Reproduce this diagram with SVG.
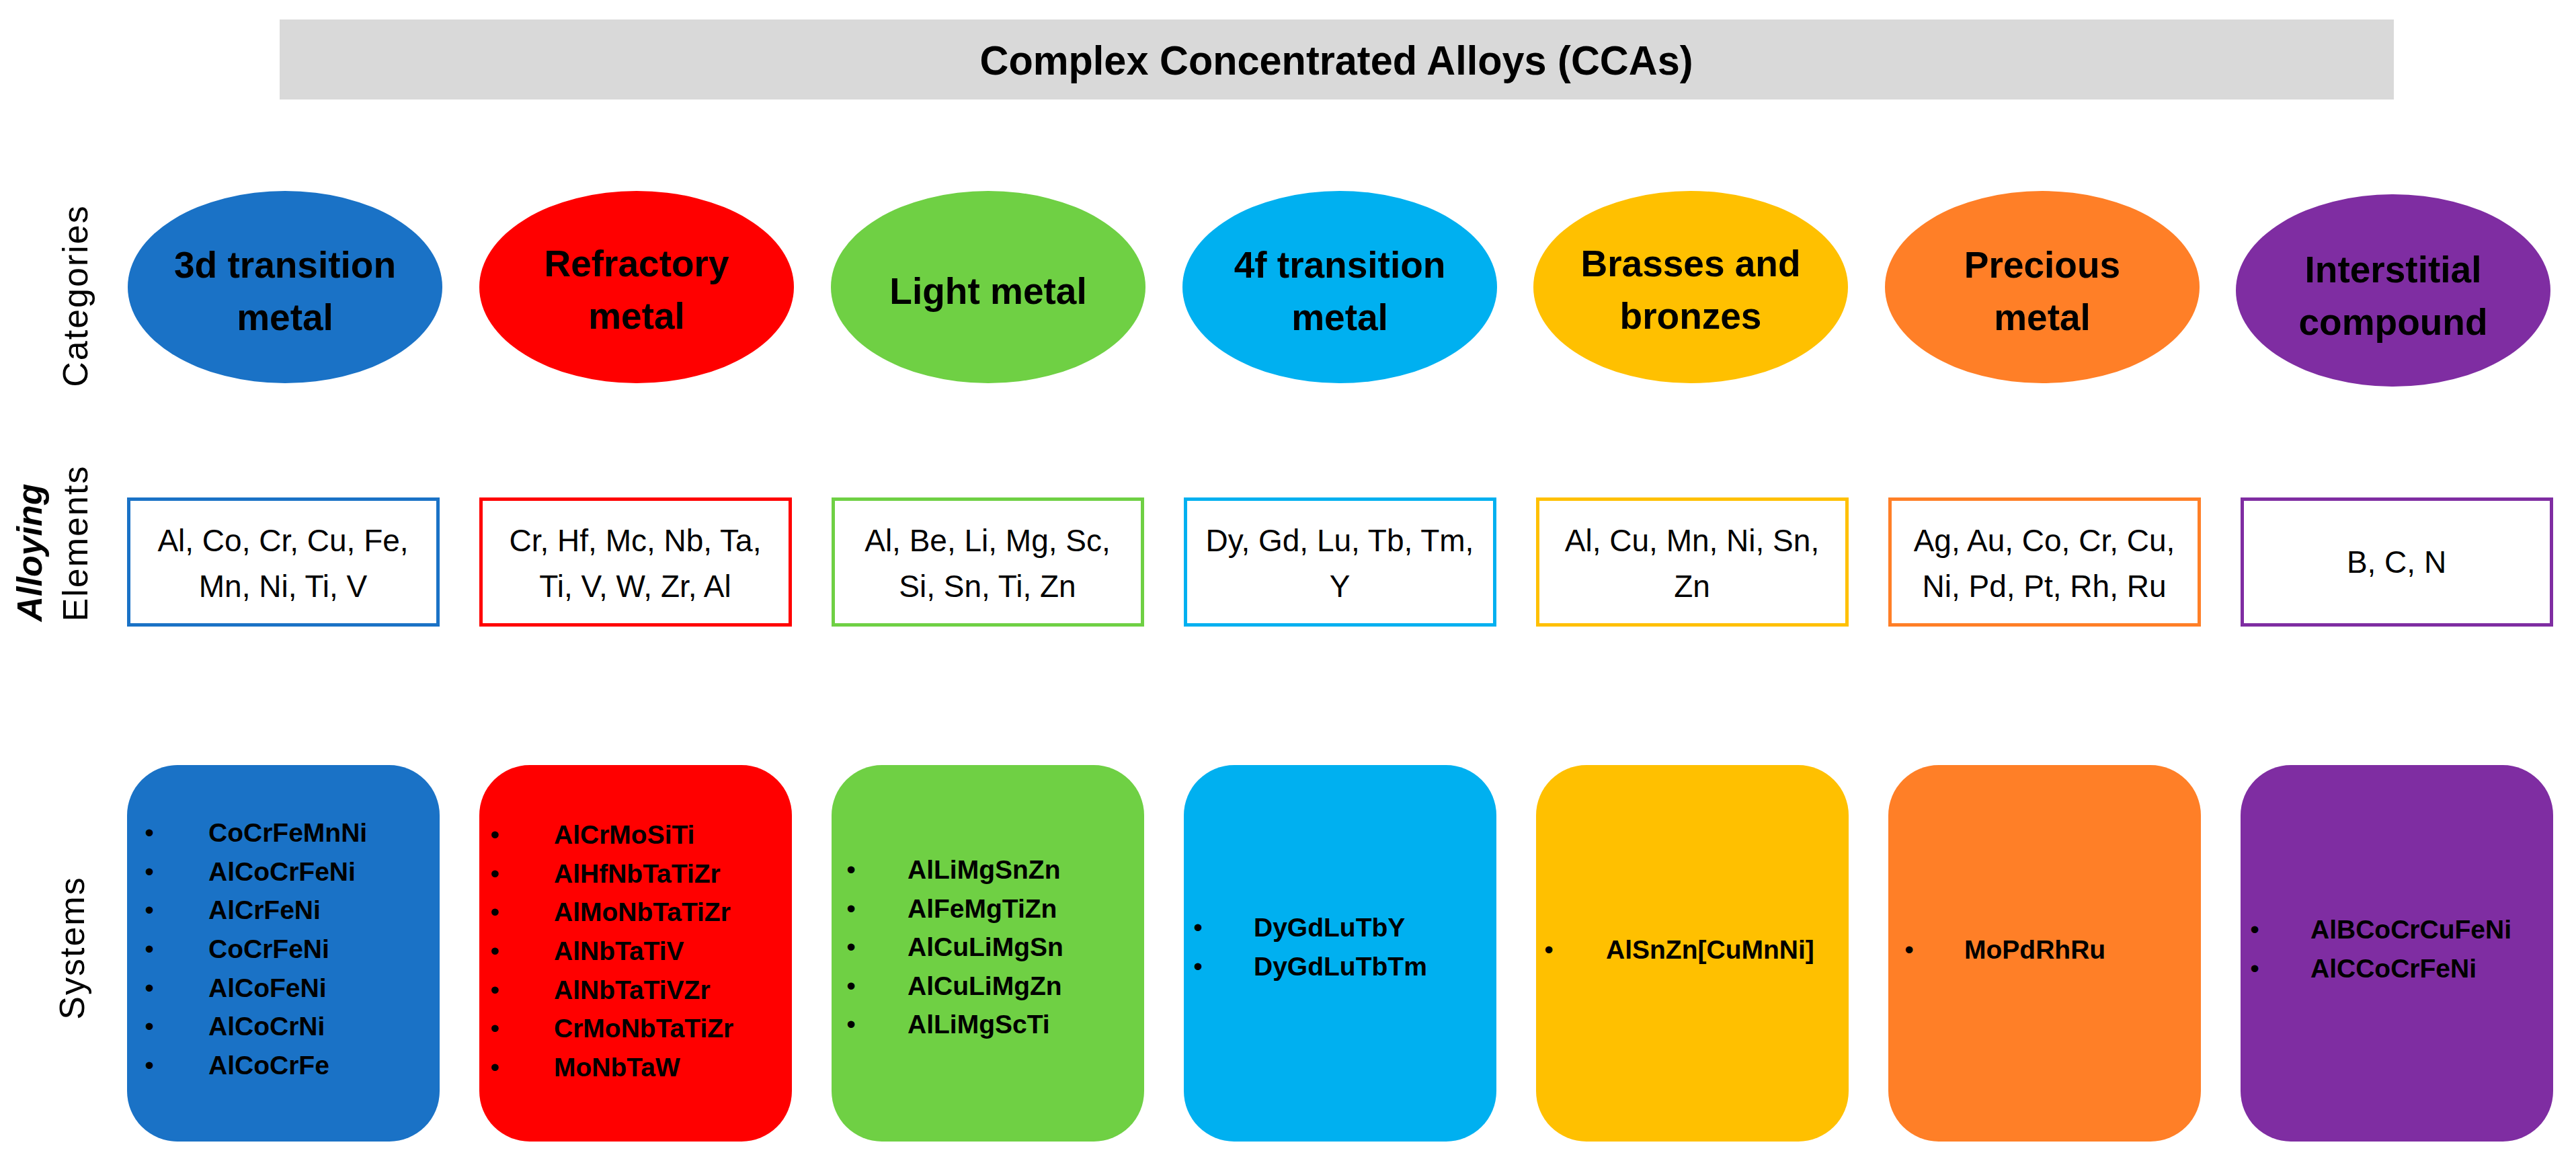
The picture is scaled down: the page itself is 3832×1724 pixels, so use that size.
<svg xmlns="http://www.w3.org/2000/svg" width="3832" height="1724" viewBox="0 0 3832 1724">
<style>
.cat{font-family:"Liberation Sans",Arial,sans-serif;font-weight:bold;font-size:55px;text-anchor:middle;fill:#000}
.el{font-family:"Liberation Sans",Arial,sans-serif;font-size:46px;text-anchor:middle;fill:#000}
.sys{font-family:"Liberation Sans",Arial,sans-serif;font-weight:bold;font-size:39px;fill:#000}
.bul{font-family:"Liberation Sans",Arial,sans-serif;font-size:39px;text-anchor:middle;fill:#000}
.side{font-family:"Liberation Sans",Arial,sans-serif;font-size:52px;text-anchor:middle;fill:#000;letter-spacing:2px}
.box{fill:#fff;stroke-width:5}
.c1{fill:#1A72C6}.c2{fill:#FF0000}.c3{fill:#6FD044}.c4{fill:#00B0F0}.c5{fill:#FFC000}.c6{fill:#FF7F27}.c7{fill:#7F2DA2}
.s1{stroke:#1A72C6}.s2{stroke:#FF0000}.s3{stroke:#6FD044}.s4{stroke:#00B0F0}.s5{stroke:#FFC000}.s6{stroke:#FF7F27}.s7{stroke:#7F2DA2}
</style>
<rect width="3832" height="1724" fill="#fff"/>

<g id="title">
<rect x="416" y="29" width="3145" height="119" fill="#D9D9D9"/>
<text x="1988" y="111" textLength="1061" lengthAdjust="spacingAndGlyphs" style="font-family:'Liberation Sans',Arial,sans-serif;font-weight:bold;font-size:62px;text-anchor:middle;fill:#000">Complex Concentrated Alloys (CCAs)</text>
</g>

<g id="row-labels">
<text class="side" transform="translate(130,440) rotate(-90)">Categories</text>
<text class="side" transform="translate(62,822) rotate(-90)" style="font-style:italic;font-weight:bold;letter-spacing:0">Alloying</text>
<text class="side" transform="translate(130,808) rotate(-90)">Elements</text>
<text class="side" transform="translate(125,1410) rotate(-90)">Systems</text>
</g>

<g id="connectors"/>

<g id="cat-3d"><ellipse class="c1" cx="424" cy="427" rx="234" ry="143"/>
<text class="cat" x="424" y="413">3d transition</text><text class="cat" x="424" y="491">metal</text></g>
<g id="cat-refractory"><ellipse class="c2" cx="947" cy="427" rx="234" ry="143"/>
<text class="cat" x="947" y="411">Refractory</text><text class="cat" x="947" y="489">metal</text></g>
<g id="cat-light"><ellipse class="c3" cx="1470" cy="427" rx="234" ry="143"/>
<text class="cat" x="1470" y="452">Light metal</text></g>
<g id="cat-4f"><ellipse class="c4" cx="1993" cy="427" rx="234" ry="143"/>
<text class="cat" x="1993" y="413">4f transition</text><text class="cat" x="1993" y="491">metal</text></g>
<g id="cat-brasses"><ellipse class="c5" cx="2515" cy="427" rx="234" ry="143"/>
<text class="cat" x="2515" y="411">Brasses and</text><text class="cat" x="2515" y="489">bronzes</text></g>
<g id="cat-precious"><ellipse class="c6" cx="3038" cy="427" rx="234" ry="143"/>
<text class="cat" x="3038" y="413">Precious</text><text class="cat" x="3038" y="491">metal</text></g>
<g id="cat-interstitial"><ellipse class="c7" cx="3560" cy="432" rx="234" ry="143"/>
<text class="cat" x="3560" y="420">Interstitial</text><text class="cat" x="3560" y="498">compound</text></g>

<g id="el-3d"><rect class="box s1" x="191.5" y="742.5" width="460" height="187"/>
<text class="el" x="421" y="820">Al, Co, Cr, Cu, Fe,</text><text class="el" x="421" y="888">Mn, Ni, Ti, V</text></g>
<g id="el-refractory"><rect class="box s2" x="715.5" y="742.5" width="460" height="187"/>
<text class="el" x="945" y="820">Cr, Hf, Mc, Nb, Ta,</text><text class="el" x="945" y="888">Ti, V, W, Zr, Al</text></g>
<g id="el-light"><rect class="box s3" x="1239.5" y="742.5" width="460" height="187"/>
<text class="el" x="1469" y="820">Al, Be, Li, Mg, Sc,</text><text class="el" x="1469" y="888">Si, Sn, Ti, Zn</text></g>
<g id="el-4f"><rect class="box s4" x="1763.5" y="742.5" width="460" height="187"/>
<text class="el" x="1993" y="820">Dy, Gd, Lu, Tb, Tm,</text><text class="el" x="1993" y="888">Y</text></g>
<g id="el-brasses"><rect class="box s5" x="2287.5" y="742.5" width="460" height="187"/>
<text class="el" x="2517" y="820">Al, Cu, Mn, Ni, Sn,</text><text class="el" x="2517" y="888">Zn</text></g>
<g id="el-precious"><rect class="box s6" x="2811.5" y="742.5" width="460" height="187"/>
<text class="el" x="3041" y="820">Ag, Au, Co, Cr, Cu,</text><text class="el" x="3041" y="888">Ni, Pd, Pt, Rh, Ru</text></g>
<g id="el-interstitial"><rect class="box s7" x="3335.5" y="742.5" width="460" height="187"/>
<text class="el" x="3565" y="852">B, C, N</text></g>

<g id="sys-3d"><rect class="c1" x="189" y="1138" width="465" height="560" rx="75" ry="75"/>
<text class="bul" x="222" y="1252">•</text><text class="sys" x="310" y="1252">CoCrFeMnNi</text>
<text class="bul" x="222" y="1310">•</text><text class="sys" x="310" y="1310">AlCoCrFeNi</text>
<text class="bul" x="222" y="1367">•</text><text class="sys" x="310" y="1367">AlCrFeNi</text>
<text class="bul" x="222" y="1425">•</text><text class="sys" x="310" y="1425">CoCrFeNi</text>
<text class="bul" x="222" y="1483">•</text><text class="sys" x="310" y="1483">AlCoFeNi</text>
<text class="bul" x="222" y="1540">•</text><text class="sys" x="310" y="1540">AlCoCrNi</text>
<text class="bul" x="222" y="1598">•</text><text class="sys" x="310" y="1598">AlCoCrFe</text></g>

<g id="sys-refractory"><rect class="c2" x="713" y="1138" width="465" height="560" rx="75" ry="75"/>
<text class="bul" x="736" y="1255">•</text><text class="sys" x="824" y="1255">AlCrMoSiTi</text>
<text class="bul" x="736" y="1313">•</text><text class="sys" x="824" y="1313">AlHfNbTaTiZr</text>
<text class="bul" x="736" y="1370">•</text><text class="sys" x="824" y="1370">AlMoNbTaTiZr</text>
<text class="bul" x="736" y="1428">•</text><text class="sys" x="824" y="1428">AlNbTaTiV</text>
<text class="bul" x="736" y="1486">•</text><text class="sys" x="824" y="1486">AlNbTaTiVZr</text>
<text class="bul" x="736" y="1543">•</text><text class="sys" x="824" y="1543">CrMoNbTaTiZr</text>
<text class="bul" x="736" y="1601">•</text><text class="sys" x="824" y="1601">MoNbTaW</text></g>

<g id="sys-light"><rect class="c3" x="1237" y="1138" width="465" height="560" rx="75" ry="75"/>
<text class="bul" x="1266" y="1307">•</text><text class="sys" x="1350" y="1307">AlLiMgSnZn</text>
<text class="bul" x="1266" y="1365">•</text><text class="sys" x="1350" y="1365">AlFeMgTiZn</text>
<text class="bul" x="1266" y="1422">•</text><text class="sys" x="1350" y="1422">AlCuLiMgSn</text>
<text class="bul" x="1266" y="1480">•</text><text class="sys" x="1350" y="1480">AlCuLiMgZn</text>
<text class="bul" x="1266" y="1537">•</text><text class="sys" x="1350" y="1537">AlLiMgScTi</text></g>

<g id="sys-4f"><rect class="c4" x="1761" y="1138" width="465" height="560" rx="75" ry="75"/>
<text class="bul" x="1782" y="1393">•</text><text class="sys" x="1865" y="1393">DyGdLuTbY</text>
<text class="bul" x="1782" y="1451">•</text><text class="sys" x="1865" y="1451">DyGdLuTbTm</text></g>

<g id="sys-brasses"><rect class="c5" x="2285" y="1138" width="465" height="560" rx="75" ry="75"/>
<text class="bul" x="2304" y="1426">•</text><text class="sys" x="2389" y="1426">AlSnZn[CuMnNi]</text></g>

<g id="sys-precious"><rect class="c6" x="2809" y="1138" width="465" height="560" rx="75" ry="75"/>
<text class="bul" x="2840" y="1426">•</text><text class="sys" x="2922" y="1426">MoPdRhRu</text></g>

<g id="sys-interstitial"><rect class="c7" x="3333" y="1138" width="465" height="560" rx="75" ry="75"/>
<text class="bul" x="3354" y="1396">•</text><text class="sys" x="3437" y="1396">AlBCoCrCuFeNi</text>
<text class="bul" x="3354" y="1454">•</text><text class="sys" x="3437" y="1454">AlCCoCrFeNi</text></g>
</svg>
